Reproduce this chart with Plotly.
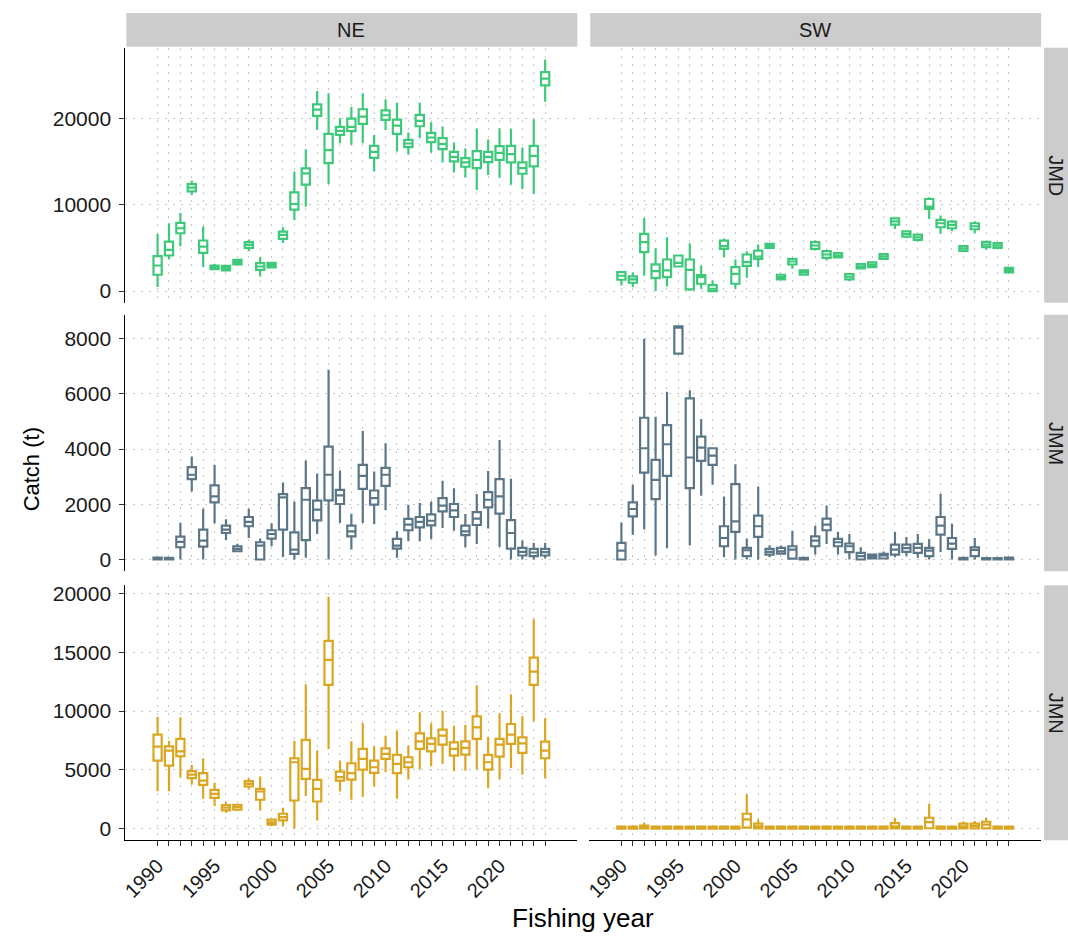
import plotly.graph_objects as go

# Fishing years shown on every panel
years = list(range(1990, 2025))
areas = ["NE", "SW"]
species = ["JMD", "JMM", "JMN"]

# ---- JMD, NE ----
ne_jmd_lo = [460, 3650, 5190, 11115, 2770, 2420, 2310, 3000, 4615, 1690, 2650, 5575, 8230, 9770, 18650, 12385, 17115, 16920, 17115, 13845, 18650, 16150, 15770, 17690, 16040, 14885, 13730, 13155, 11690, 13420, 13075, 12310, 11805, 11230, 21920]
ne_jmd_q1 = [1885, 4115, 6690, 11540, 4420, 2540, 2385, 3080, 5000, 2460, 2730, 6040, 9420, 12310, 20270, 14805, 18075, 18500, 19345, 15420, 19805, 18190, 16650, 19075, 17230, 16420, 15000, 14385, 14230, 14920, 15190, 14885, 13575, 14420, 23805]
ne_jmd_med = [2960, 4770, 7270, 11960, 5150, 2770, 2650, 3350, 5345, 2845, 3000, 6500, 10077, 13615, 21000, 16305, 18540, 19000, 20190, 16115, 20345, 19150, 17075, 19690, 17770, 17000, 15540, 14885, 15190, 15540, 16000, 15845, 14230, 15655, 24575]
ne_jmd_q3 = [4040, 5730, 7885, 12385, 5850, 2960, 2920, 3615, 5655, 3230, 3270, 6885, 11420, 14190, 21615, 18190, 19000, 19960, 21040, 16805, 20920, 19845, 17500, 20385, 18305, 17690, 16115, 15385, 16190, 16115, 16770, 16805, 14885, 16805, 25345]
ne_jmd_hi = [6615, 7845, 9040, 12770, 7460, 3150, 3000, 3700, 5960, 3920, 3350, 7385, 13845, 16420, 23150, 22885, 20000, 21305, 22885, 18075, 22190, 21805, 18345, 21805, 19540, 19040, 17190, 16500, 18810, 17540, 18845, 18770, 16615, 19885, 26805]

# ---- JMD, SW ----
sw_jmd_lo = [655, 460, 1770, 0, 540, 2800, 0, 270, 0, 3920, 270, 1540, 2770, 5000, 1345, 2575, 1885, 4690, 3540, 3770, 1155, 2615, 2770, 3730, 7190, 6115, 5730, 8345, 6615, 6920, 4500, 6690, 4770, 5000, 2155]
sw_jmd_q1 = [1310, 960, 4500, 1500, 1615, 2845, 190, 845, 0, 4885, 845, 2925, 3730, 5000, 1345, 3075, 1885, 4885, 3845, 3885, 1345, 2615, 2770, 3730, 7690, 6305, 5920, 9500, 7385, 7270, 4655, 7155, 5075, 5000, 2155]
sw_jmd_med = [1770, 1345, 5655, 2310, 2385, 3270, 2460, 1615, 270, 5190, 2000, 3345, 4000, 5230, 1615, 3420, 2155, 5270, 4230, 4115, 1655, 2845, 3040, 4000, 8075, 6615, 6230, 9770, 7845, 7655, 4925, 7500, 5385, 5270, 2425]
sw_jmd_q3 = [2190, 1690, 6615, 3080, 3655, 4115, 3655, 1845, 690, 5845, 2770, 4230, 4690, 5460, 1885, 3730, 2385, 5655, 4615, 4385, 1960, 3115, 3310, 4270, 8420, 6920, 6540, 10655, 8230, 8040, 5190, 7845, 5690, 5540, 2690]
sw_jmd_hi = [2250, 2155, 8460, 4960, 6230, 4200, 5540, 2960, 1230, 6075, 3655, 4615, 5385, 5460, 1885, 3770, 2385, 5850, 4770, 4500, 2075, 3115, 3310, 4270, 8540, 7000, 6600, 10845, 8730, 8230, 5250, 8075, 5770, 5540, 2690]

# ---- JMM, NE ----
ne_jmm_lo = [0, 0, 0, 2465, 0, 1310, 710, 300, 780, 0, 480, 95, 0, 60, 925, 0, 1325, 360, 1325, 1285, 1780, 60, 660, 660, 745, 1145, 1045, 445, 565, 1120, 455, 0, 0, 0, 35]
ne_jmm_q1 = [0, 0, 445, 2910, 470, 2070, 960, 300, 1205, 0, 760, 1085, 205, 700, 1420, 2140, 2010, 840, 2560, 1985, 2670, 395, 1060, 1165, 1240, 1745, 1540, 880, 1250, 1890, 1660, 395, 145, 120, 145]
ne_jmm_med = [40, 30, 640, 3070, 685, 2285, 1085, 385, 1360, 505, 925, 2250, 360, 2165, 1805, 3070, 2320, 1020, 3030, 2225, 3070, 505, 1265, 1360, 1405, 1950, 1780, 1020, 1480, 2165, 2285, 960, 275, 255, 265]
ne_jmm_q3 = [70, 60, 830, 3345, 1085, 2685, 1225, 480, 1540, 625, 1060, 2370, 985, 2585, 2130, 4090, 2525, 1225, 3430, 2500, 3320, 745, 1470, 1540, 1635, 2225, 2010, 1225, 1720, 2440, 2910, 1430, 420, 385, 385]
ne_jmm_hi = [90, 80, 1335, 3730, 1840, 3430, 1455, 575, 1840, 760, 1310, 2790, 2105, 3585, 3115, 6870, 3225, 1660, 4655, 3190, 4210, 1020, 1985, 2045, 2105, 2850, 2585, 1650, 2370, 3210, 4330, 2925, 685, 600, 600]

# ---- JMM, SW ----
sw_jmm_lo = [0, 900, 1085, 145, 420, 7460, 505, 2310, 2705, 85, 0, 0, 0, 85, 200, 0, 0, 180, 565, 180, 0, 0, 36, 20, 85, 120, 60, 0, 275, 0, 0, 0, 0, 0, 0]
sw_jmm_q1 = [0, 1565, 3150, 2190, 3030, 7460, 2585, 3575, 3430, 480, 1000, 120, 820, 180, 215, 35, 0, 480, 1060, 480, 265, 0, 36, 36, 180, 275, 240, 120, 900, 385, 0, 120, 0, 0, 0]
sw_jmm_med = [325, 1830, 4030, 2885, 4175, 8400, 3695, 4055, 3765, 780, 1385, 335, 1205, 275, 300, 360, 25, 685, 1265, 625, 480, 120, 100, 145, 360, 410, 420, 325, 1225, 575, 20, 350, 20, 20, 30]
sw_jmm_q3 = [600, 2070, 5135, 3610, 4870, 8445, 5835, 4450, 4030, 1205, 2730, 420, 1590, 385, 420, 480, 60, 840, 1480, 745, 580, 240, 180, 205, 540, 540, 565, 420, 1540, 780, 60, 445, 55, 55, 70]
sw_jmm_hi = [1345, 2705, 8000, 5175, 6075, 8445, 6135, 5090, 4060, 2285, 3450, 760, 2645, 515, 505, 1045, 70, 1225, 1960, 1000, 925, 445, 190, 290, 1000, 820, 925, 745, 2380, 1300, 60, 780, 55, 55, 70]

# ---- JMN, NE ----
ne_jmn_lo = [3190, 3190, 4380, 3757, 2540, 1920, 1355, 1500, 3335, 1555, 280, 200, 0, 2770, 705, 6780, 3165, 2460, 2685, 3590, 4800, 2540, 4180, 5085, 5310, 5510, 4885, 4945, 5085, 3445, 4180, 5170, 4605, 9125, 4295]
ne_jmn_q1 = [5790, 5370, 6160, 4295, 3730, 2625, 1555, 1610, 3590, 2460, 340, 705, 2400, 4240, 2315, 12230, 4095, 4180, 5030, 4745, 5930, 4720, 5225, 6780, 6580, 7145, 6215, 6300, 7630, 5030, 6130, 7205, 6440, 12230, 5990]
ne_jmn_med = [6980, 6640, 6580, 4605, 4095, 2965, 1780, 1835, 3815, 3165, 535, 990, 5650, 5085, 3390, 14350, 4380, 4720, 5930, 5225, 6355, 5510, 5650, 7430, 7205, 7910, 6780, 6865, 8615, 5650, 7145, 7995, 7260, 13360, 6640]
ne_jmn_q3 = [7995, 7005, 7630, 4890, 4720, 3305, 2005, 2035, 4040, 3390, 765, 1270, 5990, 7545, 4150, 15960, 4860, 5565, 6780, 5790, 6835, 6270, 6075, 8110, 7685, 8420, 7345, 7430, 9550, 6270, 7630, 8900, 7770, 14550, 7400]
ne_jmn_hi = [9520, 7485, 9465, 5425, 5990, 3900, 2260, 2120, 4295, 4435, 850, 1780, 7485, 12290, 6640, 19720, 5790, 7430, 8985, 7005, 7910, 8335, 7060, 9890, 8955, 10030, 8760, 8840, 12205, 7825, 9805, 11440, 9550, 17800, 9405]

# ---- JMN, SW ----
sw_jmn_lo = [0, 0, 0, 0, 0, 0, 0, 0, 0, 0, 0, 0, 0, 0, 0, 0, 0, 0, 0, 0, 0, 0, 0, 0, 0, 0, 0, 0, 0, 0, 0, 30, 30, 0, 0]
sw_jmn_q1 = [0, 0, 20, 0, 0, 0, 0, 0, 0, 0, 0, 85, 20, 0, 0, 0, 0, 0, 0, 0, 0, 0, 0, 0, 20, 0, 0, 40, 0, 0, 20, 30, 30, 0, 0]
sw_jmn_med = [60, 60, 140, 60, 60, 60, 60, 60, 60, 60, 60, 800, 200, 60, 60, 60, 60, 60, 60, 60, 60, 60, 60, 60, 200, 60, 60, 565, 60, 60, 200, 230, 340, 60, 60]
sw_jmn_q3 = [170, 170, 255, 170, 170, 170, 170, 170, 170, 170, 170, 1270, 425, 170, 170, 170, 170, 170, 170, 170, 170, 170, 170, 170, 480, 170, 170, 930, 170, 170, 425, 425, 590, 170, 170]
sw_jmn_hi = [200, 200, 535, 200, 200, 200, 200, 200, 200, 200, 200, 2910, 790, 200, 200, 200, 200, 200, 200, 200, 200, 200, 200, 200, 905, 200, 200, 2120, 200, 200, 620, 650, 930, 200, 200]

panel_stats = {
    ("JMD", "NE"): (ne_jmd_lo, ne_jmd_q1, ne_jmd_med, ne_jmd_q3, ne_jmd_hi),
    ("JMD", "SW"): (sw_jmd_lo, sw_jmd_q1, sw_jmd_med, sw_jmd_q3, sw_jmd_hi),
    ("JMM", "NE"): (ne_jmm_lo, ne_jmm_q1, ne_jmm_med, ne_jmm_q3, ne_jmm_hi),
    ("JMM", "SW"): (sw_jmm_lo, sw_jmm_q1, sw_jmm_med, sw_jmm_q3, sw_jmm_hi),
    ("JMN", "NE"): (ne_jmn_lo, ne_jmn_q1, ne_jmn_med, ne_jmn_q3, ne_jmn_hi),
    ("JMN", "SW"): (sw_jmn_lo, sw_jmn_q1, sw_jmn_med, sw_jmn_q3, sw_jmn_hi),
}

colors = {"JMD": "#3ec97a", "JMM": "#5b7787", "JMN": "#daa520"}
y_dticks = {"JMD": 10000, "JMM": 2000, "JMN": 5000}

W, H = 1068, 936
col_px = [(121, 575), (587, 1041)]
row_px = [(45, 300.6), (312.7, 570), (584, 840)]
x_range = [1987.18, 2026.82]

FONT = "Liberation Sans, Arial, Helvetica, sans-serif"
GRID = dict(gridcolor="#c6c6c6", griddash="2px,6px", gridwidth=1.4)

fig = go.Figure()
layout = {}

for r, sp in enumerate(species):
    # shared y range per row: data span plus 5% padding on each side
    row_lo = min(min(panel_stats[(sp, a)][0]) for a in areas)
    row_hi = max(max(panel_stats[(sp, a)][4]) for a in areas)
    pad = 0.05 * (row_hi - row_lo)
    y_range = [row_lo - pad, row_hi + pad]
    for c, ar in enumerate(areas):
        k = r * 2 + c + 1
        sfx = "" if k == 1 else str(k)
        lo, q1, med, q3, hi = panel_stats[(sp, ar)]
        fig.add_trace(go.Box(
            x=years, q1=q1, median=med, q3=q3, lowerfence=lo, upperfence=hi,
            orientation="v", xaxis="x" + sfx, yaxis="y" + sfx,
            fillcolor="white", line=dict(color=colors[sp], width=2.2),
            width=0.72, whiskerwidth=0, boxpoints=False,
            showlegend=False, hoverinfo="skip",
        ))
        bottom = r == 2
        left = c == 0
        layout["xaxis" + sfx] = dict(
            domain=[col_px[c][0] / W, col_px[c][1] / W], anchor="y" + sfx,
            range=x_range, tickmode="array", tickvals=list(range(1990, 2021, 5)),
            showgrid=True, **GRID, zeroline=False,
            minor=dict(tickmode="array", tickvals=years, showgrid=True, **GRID,
                       ticks="outside" if bottom else "", ticklen=5,
                       tickcolor="#333333", tickwidth=1),
            ticks="outside" if bottom else "", ticklen=5, tickcolor="#333333",
            showticklabels=bottom, tickangle=-45,
            tickfont=dict(family=FONT, size=20, color="#1a1a1a"),
            showline=bottom, linecolor="black", linewidth=1.2,
        )
        layout["yaxis" + sfx] = dict(
            domain=[1 - row_px[r][1] / H, 1 - row_px[r][0] / H], anchor="x" + sfx,
            range=y_range, tick0=0, dtick=y_dticks[sp], tickformat="d",
            showgrid=True, **GRID, zeroline=False,
            ticks="outside" if left else "", ticklen=5, tickcolor="#333333",
            showticklabels=left, ticklabelstandoff=4,
            tickfont=dict(family=FONT, size=21, color="#1a1a1a"),
            showline=left, linecolor="black", linewidth=1.2,
        )

shapes = []
annotations = []
# column strips
for c, ar in enumerate(areas):
    x0, x1 = col_px[c]
    shapes.append(dict(type="rect", xref="paper", yref="paper",
                       x0=(x0 + 1) / W, x1=x1 / W, y0=1 - 44 / H, y1=1 - 10 / H,
                       fillcolor="#cccccc", line=dict(width=0), layer="below"))
    annotations.append(dict(text=ar, xref="paper", yref="paper",
                            x=(x0 + x1) / 2 / W, y=1 - 27 / H, showarrow=False,
                            xanchor="center", yanchor="middle",
                            font=dict(family=FONT, size=20, color="#1a1a1a")))
# row strips
for r, sp in enumerate(species):
    y0, y1 = row_px[r]
    shapes.append(dict(type="rect", xref="paper", yref="paper",
                       x0=1044 / W, x1=1.0, y0=1 - y1 / H, y1=1 - y0 / H,
                       fillcolor="#cccccc", line=dict(width=0), layer="below"))
    annotations.append(dict(text=sp, xref="paper", yref="paper",
                            x=1056 / W, y=1 - (y0 + y1) / 2 / H, showarrow=False,
                            xanchor="center", yanchor="middle", textangle=90,
                            font=dict(family=FONT, size=20, color="#1a1a1a")))
# axis titles
annotations.append(dict(text="Fishing year", xref="paper", yref="paper",
                        x=581 / W, y=1 - 918 / H, showarrow=False,
                        xanchor="center", yanchor="middle",
                        font=dict(family=FONT, size=26, color="black")))
annotations.append(dict(text="Catch (t)", xref="paper", yref="paper",
                        x=27 / W, y=1 - 468 / H, showarrow=False, textangle=-90,
                        xanchor="center", yanchor="middle",
                        font=dict(family=FONT, size=22, color="black")))

fig.update_layout(
    width=W, height=H, margin=dict(l=0, r=0, t=0, b=0),
    paper_bgcolor="white", plot_bgcolor="white",
    shapes=shapes, annotations=annotations, **layout,
)

fig.write_html("out.html")
